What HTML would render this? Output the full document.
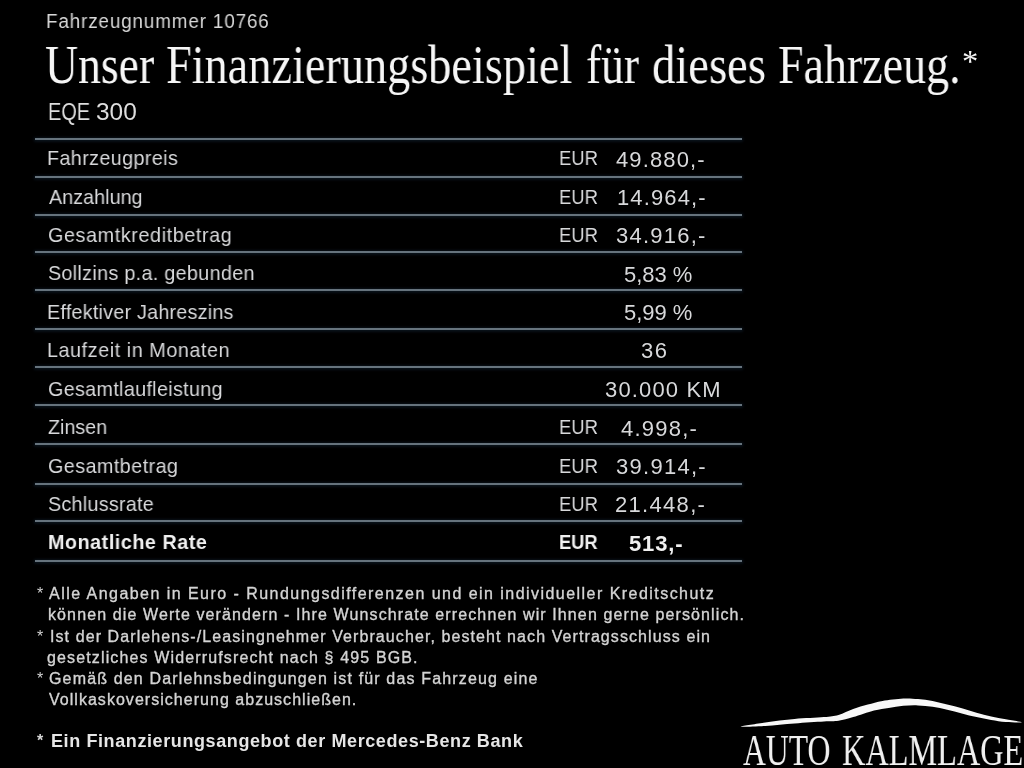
<!DOCTYPE html>
<html><head><meta charset="utf-8"><style>
html,body{margin:0;padding:0;background:#000;}
body{width:1024px;height:768px;overflow:hidden;position:relative;}
div{position:absolute;white-space:pre;will-change:transform;}
i{position:absolute;left:35px;width:707px;height:2px;background:#66737d;box-shadow:0 0.5px 3px 1px #0c1620;}
</style></head><body>
<div style="left:46.02px;top:10.87px;font:normal 20px/20px 'Liberation Sans', sans-serif;letter-spacing:0.944px;color:#d8d8d8;transform:scaleX(0.9400);transform-origin:0 0;">Fahrzeugnummer 10766</div>
<div style="left:44.57px;top:37.44px;font:normal 55px/55px 'Liberation Serif', serif;letter-spacing:0.000px;color:#f6f6f6;transform:scaleX(0.8315);transform-origin:0 0;">Unser</div>
<div style="left:166.16px;top:37.44px;font:normal 55px/55px 'Liberation Serif', serif;letter-spacing:0.000px;color:#f6f6f6;transform:scaleX(0.8416);transform-origin:0 0;">Finanzierungsbeispiel</div>
<div style="left:586.05px;top:37.44px;font:normal 55px/55px 'Liberation Serif', serif;letter-spacing:0.000px;color:#f6f6f6;transform:scaleX(0.8274);transform-origin:0 0;">für</div>
<div style="left:651.70px;top:37.44px;font:normal 55px/55px 'Liberation Serif', serif;letter-spacing:0.000px;color:#f6f6f6;transform:scaleX(0.8481);transform-origin:0 0;">dieses</div>
<div style="left:777.86px;top:37.44px;font:normal 55px/55px 'Liberation Serif', serif;letter-spacing:0.000px;color:#f6f6f6;transform:scaleX(0.8355);transform-origin:0 0;">Fahrzeug.</div>
<div style="left:962.30px;top:45.54px;font:normal 31px/31px 'Liberation Serif', serif;letter-spacing:0.000px;color:#f6f6f6;transform:scaleX(1.0500);transform-origin:0 0;">*</div>
<div style="left:47.71px;top:100.51px;font:normal 23.5px/23.5px 'Liberation Sans', sans-serif;letter-spacing:0.000px;color:#dedede;transform:scaleX(0.8468);transform-origin:0 0;">EQE</div>
<div style="left:96.36px;top:100.51px;font:normal 23.5px/23.5px 'Liberation Sans', sans-serif;letter-spacing:0.000px;color:#dedede;transform:scaleX(1.0395);transform-origin:0 0;">300</div>
<div style="left:47.12px;top:147.22px;font:normal 21px/21px 'Liberation Sans', sans-serif;letter-spacing:0.410px;color:#d8d9db;transform:scaleX(0.9400);transform-origin:0 0;">Fahrzeugpreis</div>
<div style="left:559.45px;top:148.07px;font:normal 20px/20px 'Liberation Sans', sans-serif;letter-spacing:0.000px;color:#d8d9db;transform:scaleX(0.9231);transform-origin:0 0;">EUR</div>
<div style="left:616.40px;top:149.08px;font:normal 22px/22px 'Liberation Sans', sans-serif;letter-spacing:1.129px;color:#d8d9db;">49.880,-</div>
<div style="left:49.00px;top:185.82px;font:normal 21px/21px 'Liberation Sans', sans-serif;letter-spacing:0.037px;color:#d8d9db;transform:scaleX(0.9400);transform-origin:0 0;">Anzahlung</div>
<div style="left:559.45px;top:186.67px;font:normal 20px/20px 'Liberation Sans', sans-serif;letter-spacing:0.000px;color:#d8d9db;transform:scaleX(0.9231);transform-origin:0 0;">EUR</div>
<div style="left:616.50px;top:187.28px;font:normal 22px/22px 'Liberation Sans', sans-serif;letter-spacing:1.129px;color:#d8d9db;">14.964,-</div>
<div style="left:48.06px;top:224.42px;font:normal 21px/21px 'Liberation Sans', sans-serif;letter-spacing:0.652px;color:#d8d9db;transform:scaleX(0.9400);transform-origin:0 0;">Gesamtkreditbetrag</div>
<div style="left:559.45px;top:225.27px;font:normal 20px/20px 'Liberation Sans', sans-serif;letter-spacing:0.000px;color:#d8d9db;transform:scaleX(0.9231);transform-origin:0 0;">EUR</div>
<div style="left:615.70px;top:225.48px;font:normal 22px/22px 'Liberation Sans', sans-serif;letter-spacing:1.243px;color:#d8d9db;">34.916,-</div>
<div style="left:48.06px;top:262.42px;font:normal 21px/21px 'Liberation Sans', sans-serif;letter-spacing:0.339px;color:#d8d9db;transform:scaleX(0.9400);transform-origin:0 0;">Sollzins p.a. gebunden</div>
<div style="left:623.50px;top:264.28px;font:normal 22px/22px 'Liberation Sans', sans-serif;letter-spacing:-0.020px;color:#d8d9db;">5,83 %</div>
<div style="left:47.12px;top:301.12px;font:normal 21px/21px 'Liberation Sans', sans-serif;letter-spacing:0.248px;color:#d8d9db;transform:scaleX(0.9400);transform-origin:0 0;">Effektiver Jahreszins</div>
<div style="left:623.50px;top:302.38px;font:normal 22px/22px 'Liberation Sans', sans-serif;letter-spacing:-0.020px;color:#d8d9db;">5,99 %</div>
<div style="left:47.12px;top:339.12px;font:normal 21px/21px 'Liberation Sans', sans-serif;letter-spacing:0.609px;color:#d8d9db;transform:scaleX(0.9400);transform-origin:0 0;">Laufzeit in Monaten</div>
<div style="left:640.60px;top:340.28px;font:normal 22px/22px 'Liberation Sans', sans-serif;letter-spacing:1.400px;color:#d8d9db;">36</div>
<div style="left:48.06px;top:378.12px;font:normal 21px/21px 'Liberation Sans', sans-serif;letter-spacing:0.349px;color:#d8d9db;transform:scaleX(0.9400);transform-origin:0 0;">Gesamtlaufleistung</div>
<div style="left:604.80px;top:378.58px;font:normal 22px/22px 'Liberation Sans', sans-serif;letter-spacing:1.150px;color:#d8d9db;">30.000 KM</div>
<div style="left:48.06px;top:415.92px;font:normal 21px/21px 'Liberation Sans', sans-serif;letter-spacing:-0.019px;color:#d8d9db;transform:scaleX(0.9400);transform-origin:0 0;">Zinsen</div>
<div style="left:559.45px;top:416.77px;font:normal 20px/20px 'Liberation Sans', sans-serif;letter-spacing:0.000px;color:#d8d9db;transform:scaleX(0.9231);transform-origin:0 0;">EUR</div>
<div style="left:621.00px;top:417.68px;font:normal 22px/22px 'Liberation Sans', sans-serif;letter-spacing:1.217px;color:#d8d9db;">4.998,-</div>
<div style="left:48.06px;top:454.82px;font:normal 21px/21px 'Liberation Sans', sans-serif;letter-spacing:0.470px;color:#d8d9db;transform:scaleX(0.9400);transform-origin:0 0;">Gesamtbetrag</div>
<div style="left:559.45px;top:455.67px;font:normal 20px/20px 'Liberation Sans', sans-serif;letter-spacing:0.000px;color:#d8d9db;transform:scaleX(0.9231);transform-origin:0 0;">EUR</div>
<div style="left:615.50px;top:455.98px;font:normal 22px/22px 'Liberation Sans', sans-serif;letter-spacing:1.271px;color:#d8d9db;">39.914,-</div>
<div style="left:48.06px;top:493.22px;font:normal 21px/21px 'Liberation Sans', sans-serif;letter-spacing:0.274px;color:#d8d9db;transform:scaleX(0.9400);transform-origin:0 0;">Schlussrate</div>
<div style="left:559.45px;top:494.07px;font:normal 20px/20px 'Liberation Sans', sans-serif;letter-spacing:0.000px;color:#d8d9db;transform:scaleX(0.9231);transform-origin:0 0;">EUR</div>
<div style="left:615.20px;top:494.38px;font:normal 22px/22px 'Liberation Sans', sans-serif;letter-spacing:1.314px;color:#d8d9db;">21.448,-</div>
<div style="left:48.06px;top:530.72px;font:bold 21px/21px 'Liberation Sans', sans-serif;letter-spacing:0.565px;color:#f0f0f0;transform:scaleX(0.9400);transform-origin:0 0;">Monatliche Rate</div>
<div style="left:558.89px;top:531.57px;font:bold 20px/20px 'Liberation Sans', sans-serif;letter-spacing:0.000px;color:#f0f0f0;transform:scaleX(0.9146);transform-origin:0 0;">EUR</div>
<div style="left:629.20px;top:532.68px;font:bold 22px/22px 'Liberation Sans', sans-serif;letter-spacing:0.850px;color:#f0f0f0;">513,-</div>
<div style="left:36.70px;top:585.96px;font:normal 16px/16px 'Liberation Sans', sans-serif;letter-spacing:0.000px;color:#d4d4d4;">*</div>
<div style="left:49.40px;top:585.96px;font:normal 16px/16px 'Liberation Sans', sans-serif;letter-spacing:1.459px;color:#d4d4d4;-webkit-text-stroke:0.35px #d4d4d4;">Alle Angaben in Euro - Rundungsdifferenzen und ein individueller Kreditschutz</div>
<div style="left:47.60px;top:607.26px;font:normal 16px/16px 'Liberation Sans', sans-serif;letter-spacing:1.111px;color:#d4d4d4;-webkit-text-stroke:0.35px #d4d4d4;">können die Werte verändern - Ihre Wunschrate errechnen wir Ihnen gerne persönlich.</div>
<div style="left:36.70px;top:628.76px;font:normal 16px/16px 'Liberation Sans', sans-serif;letter-spacing:0.000px;color:#d4d4d4;">*</div>
<div style="left:49.80px;top:628.76px;font:normal 16px/16px 'Liberation Sans', sans-serif;letter-spacing:1.086px;color:#d4d4d4;-webkit-text-stroke:0.35px #d4d4d4;">Ist der Darlehens-/Leasingnehmer Verbraucher, besteht nach Vertragsschluss ein</div>
<div style="left:47.30px;top:649.76px;font:normal 16px/16px 'Liberation Sans', sans-serif;letter-spacing:1.136px;color:#d4d4d4;-webkit-text-stroke:0.35px #d4d4d4;">gesetzliches Widerrufsrecht nach § 495 BGB.</div>
<div style="left:36.70px;top:670.96px;font:normal 16px/16px 'Liberation Sans', sans-serif;letter-spacing:0.000px;color:#d4d4d4;">*</div>
<div style="left:49.00px;top:670.96px;font:normal 16px/16px 'Liberation Sans', sans-serif;letter-spacing:1.154px;color:#d4d4d4;-webkit-text-stroke:0.35px #d4d4d4;">Gemäß den Darlehnsbedingungen ist für das Fahrzeug eine</div>
<div style="left:48.60px;top:691.76px;font:normal 16px/16px 'Liberation Sans', sans-serif;letter-spacing:1.029px;color:#d4d4d4;-webkit-text-stroke:0.35px #d4d4d4;">Vollkaskoversicherung abzuschließen.</div>
<div style="left:36.60px;top:733.26px;font:bold 16px/16px 'Liberation Sans', sans-serif;letter-spacing:0.000px;color:#d8d8d8;">*</div>
<div style="left:51.20px;top:731.56px;font:bold 18px/18px 'Liberation Sans', sans-serif;letter-spacing:0.600px;color:#e6e6e6;">Ein Finanzierungsangebot der Mercedes-Benz Bank</div>
<div style="left:743.20px;top:728.11px;font:normal 45px/45px 'Liberation Serif', serif;letter-spacing:0.000px;color:#f0f0f0;transform:scaleX(0.7033);transform-origin:0 0;">AUTO</div>
<div style="left:841.78px;top:728.11px;font:normal 45px/45px 'Liberation Serif', serif;letter-spacing:0.000px;color:#f0f0f0;transform:scaleX(0.7177);transform-origin:0 0;">KALMLAGE</div>
<i style="top:137.60px"></i>
<i style="top:175.70px"></i>
<i style="top:214.10px"></i>
<i style="top:251.30px"></i>
<i style="top:289.40px"></i>
<i style="top:327.50px"></i>
<i style="top:366.00px"></i>
<i style="top:404.30px"></i>
<i style="top:442.80px"></i>
<i style="top:483.20px"></i>
<i style="top:519.80px"></i>
<i style="top:560.30px"></i>
<svg style="position:absolute;left:0;top:0" width="1024" height="768" viewBox="0 0 1024 768">
<path d="M740.4,726.6 C740.4,726.0 756.3,723.8 765.3,722.5 C774.3,721.2 784.8,719.9 794.6,719.0 C804.4,718.1 816.6,717.8 823.9,717.1 C831.2,716.4 833.6,716.2 838.5,714.9 C843.4,713.5 848.3,710.7 853.2,709.0 C858.1,707.3 862.9,705.9 867.8,704.6 C872.7,703.3 876.6,702.0 882.5,701.0 C888.4,700.0 897.4,698.8 903.3,698.5 C909.2,698.2 913.1,698.7 918.0,699.1 C922.9,699.5 927.7,700.1 932.6,701.0 C937.5,701.9 942.3,703.4 947.2,704.6 C952.1,705.8 957.0,706.9 961.9,708.3 C966.8,709.6 971.6,711.4 976.5,712.7 C981.4,714.1 986.3,715.3 991.2,716.4 C996.1,717.5 1000.7,718.3 1005.8,719.3 C1010.9,720.3 1021.9,721.8 1021.9,722.2 C1021.9,722.7 1010.9,722.4 1005.8,722.0 C1000.7,721.6 996.1,720.8 991.2,720.0 C986.3,719.2 981.4,718.2 976.5,717.1 C971.6,716.0 966.8,714.6 961.9,713.4 C957.0,712.2 952.1,710.9 947.2,709.8 C942.3,708.7 937.5,707.5 932.6,706.8 C927.7,706.1 922.9,705.6 918.0,705.4 C913.1,705.2 908.2,705.4 903.3,705.8 C898.4,706.2 893.5,707.1 888.6,707.9 C883.7,708.7 879.9,709.0 874.0,710.5 C868.1,712.0 859.1,715.4 853.2,717.1 C847.3,718.8 843.4,720.1 838.5,720.8 C833.6,721.5 831.2,721.1 823.9,721.5 C816.6,721.9 804.4,722.7 794.6,723.4 C784.8,724.1 774.3,725.4 765.3,725.9 C756.3,726.4 740.4,727.2 740.4,726.6 Z" fill="#f8f8f8"/>
</svg>
</body></html>
